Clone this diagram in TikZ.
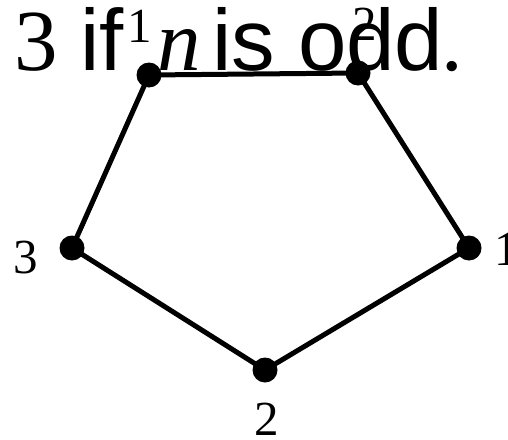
\documentclass[tikz,border=0pt]{standalone}
\usepackage{fontspec}
\setmainfont{Liberation Serif}
\newfontfamily\arialf{Liberation Sans}
\tikzset{
  vdot/.style={circle,fill=black,inner sep=0pt,minimum size=25pt},
  edge/.style={line width=5pt},
  lbl/.style={font=\fontsize{49}{49}\selectfont,inner sep=0pt},
  big/.style={inner sep=0pt,anchor=base west},
}
\begin{document}
\begin{tikzpicture}[x=1pt,y=-1pt]
\useasboundingbox (0,0) rectangle (508,439);
% heading text
\node[big,font=\fontsize{87}{87}\selectfont] (t3) at (14,70) {3};
\node[big,font=\fontsize{87}{87}\selectfont\arialf] (tif) at (80,70) {if};
\node[big,font=\fontsize{87}{87}\selectfont\itshape] (tn) at (157,70) {n};
\node[big,font=\fontsize{87}{87}\selectfont\arialf] (tis) at (212,70) {is};
\node[big,font=\fontsize{87}{87}\selectfont\arialf] (todd) at (298,70) {odd};
\node[big,font=\fontsize{87}{87}\selectfont\itshape] (tdot) at (443,70) {.};
% vertices
\node[vdot] (a) at (149,75) {};
\node[vdot] (b) at (358,73) {};
\node[vdot] (c) at (469,248) {};
\node[vdot] (d) at (265,370) {};
\node[vdot] (e) at (72,248) {};
\draw[edge] (a.center) -- (b.center) -- (c.center) -- (d.center) -- (e.center) -- (a.center);
% labels
\node[lbl,anchor=base] (la) at (140,42) {1};
\node[lbl,anchor=base] (lb) at (365,40) {2};
\node[lbl,anchor=base west] (lc) at (494,265) {1};
\node[lbl,anchor=base] (ld) at (267,435) {2};
\node[lbl,anchor=base] (le) at (26,273) {3};
\end{tikzpicture}
\end{document}
